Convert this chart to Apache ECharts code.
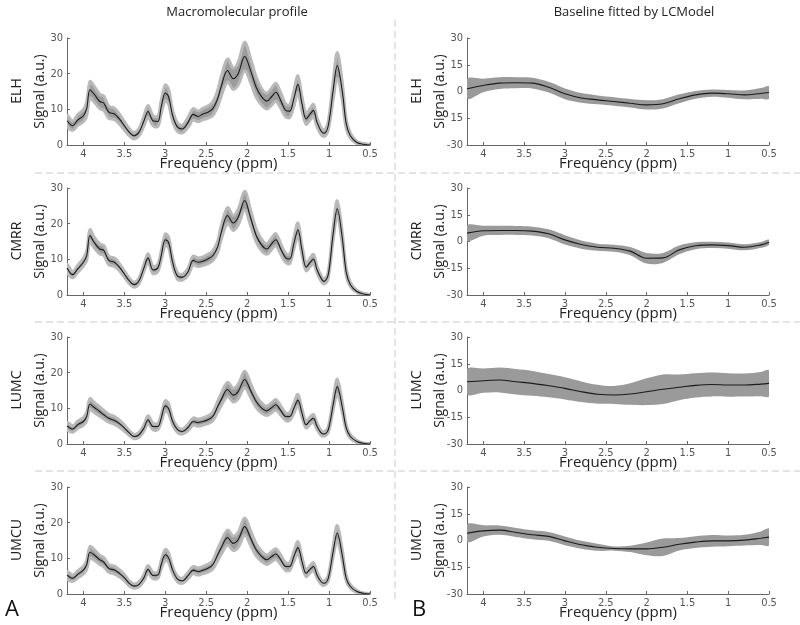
<!DOCTYPE html>
<html><head><meta charset="utf-8">
<script src="https://cdn.jsdelivr.net/npm/echarts@6/dist/echarts.min.js"></script>
<style>html,body{margin:0;padding:0;background:#fff}#c{width:800px;height:625px}</style>
</head><body><div id="c"></div>
<script>
// ---------- data ----------
const sites = ['ELH', 'CMRR', 'LUMC', 'UMCU'];
const ppmTicks = [0.5, 1, 1.5, 2, 2.5, 3, 3.5, 4];

// Macromolecular profile (left column)
const ppmMM = [4.2,4.13,4.07,4.0,3.96,3.92,3.87,3.8,3.75,3.69,3.62,3.56,3.5,3.44,3.38,3.32,3.26,3.21,3.15,3.09,3.05,3.0,2.96,2.91,2.85,2.79,2.72,2.66,2.6,2.54,2.48,2.42,2.36,2.32,2.24,2.17,2.11,2.03,1.96,1.89,1.82,1.76,1.7,1.65,1.59,1.53,1.48,1.43,1.38,1.33,1.28,1.23,1.19,1.15,1.1,1.06,1.01,0.95,0.9,0.84,0.79,0.74,0.66,0.58,0.5];
const mmELH  = [6.8,5.4,7.0,8.2,10.1,15.5,14.3,12.2,11.7,9.2,8.7,7.3,5.4,3.6,2.6,3.6,6.8,9.4,6.8,6.6,10.6,14.6,13.6,8.2,5.0,4.5,6.4,8.6,8.0,8.7,9.2,10.2,13.0,16.2,20.9,18.6,20.0,24.8,21.0,16.2,13.4,12.3,13.6,14.8,12.5,9.7,9.5,13.0,17.0,11.5,7.3,8.7,9.7,6.6,4.0,3.3,5.4,15.3,22.3,15.3,5.9,2.6,0.7,0.2,0.0];
const mmErrELH = [1.5,1.3,1.5,1.7,2.0,2.3,2.2,2.0,2.0,1.7,1.6,1.4,1.2,1.0,0.9,1.0,1.4,1.7,1.4,1.4,1.9,2.2,2.1,1.6,1.2,1.1,1.4,1.6,1.5,1.6,1.7,1.9,2.3,2.7,3.2,3.0,3.2,4.0,3.4,2.8,2.3,2.2,2.4,2.5,2.2,1.8,1.8,2.2,2.4,2.0,1.5,1.6,1.7,1.3,1.0,0.9,1.2,2.6,3.6,2.6,1.3,0.7,0.3,0.2,0.1];
const mmCMRR = [7.6,5.7,7.3,9.2,11.0,16.7,14.8,12.9,12.5,9.7,9.2,7.8,5.9,4.0,2.9,4.0,7.6,10.4,7.0,7.6,11.0,15.5,14.8,9.2,5.3,5.0,6.6,9.7,9.2,9.5,10.1,11.0,13.5,17.2,22.3,20.2,21.8,26.5,21.8,16.7,13.9,12.9,14.4,15.5,12.9,10.4,10.1,14.4,18.3,12.5,7.8,9.2,10.1,7.3,4.8,3.8,5.7,17.2,24.2,16.2,6.4,2.9,1.0,0.3,0.0];
const mmErrCMRR = [1.0,0.9,1.0,1.1,1.3,1.6,1.5,1.4,1.4,1.2,1.2,1.0,0.9,0.8,0.7,0.8,1.0,1.2,1.0,1.0,1.3,1.6,1.5,1.2,0.9,0.8,1.0,1.2,1.2,1.2,1.3,1.4,1.6,1.9,2.2,2.1,2.2,2.6,2.2,1.8,1.6,1.5,1.6,1.7,1.5,1.3,1.3,1.6,1.9,1.4,1.0,1.2,1.3,1.0,0.8,0.7,0.9,1.8,2.2,1.7,1.0,0.6,0.3,0.2,0.1];
const mmLUMC = [5.1,4.2,5.4,6.3,7.7,11.2,10.3,9.1,8.2,7.2,6.6,5.7,4.5,3.1,2.1,2.6,4.5,6.8,4.9,4.9,7.2,10.7,10.0,6.3,4.0,3.5,4.7,6.3,6.0,6.3,6.8,7.7,10.5,12.3,15.3,13.7,14.7,18.1,15.1,11.9,10.0,9.3,10.2,11.0,9.4,7.7,7.7,10.0,12.3,8.6,5.4,6.6,7.2,5.1,3.2,2.8,4.0,11.0,16.1,10.5,4.5,2.1,0.7,0.2,0.0];
const mmErrLUMC = [1.0,0.9,1.0,1.1,1.2,1.5,1.4,1.3,1.2,1.1,1.1,1.0,0.9,0.7,0.6,0.7,0.9,1.1,0.9,0.9,1.1,1.4,1.4,1.0,0.8,0.7,0.9,1.0,1.0,1.0,1.1,1.2,1.5,1.7,2.0,1.9,2.0,2.3,2.0,1.6,1.4,1.3,1.4,1.5,1.3,1.1,1.1,1.4,1.6,1.2,0.9,1.0,1.1,0.9,0.7,0.6,0.8,1.5,2.1,1.5,0.8,0.5,0.3,0.1,0.1];
const mmUMCU = [5.3,4.4,5.5,6.7,8.2,11.7,11.0,9.6,8.9,7.2,6.7,5.8,4.6,3.0,2.2,2.7,4.6,6.9,5.2,5.3,8.2,11.0,10.2,6.7,4.2,3.7,5.2,6.7,6.3,6.7,7.2,8.2,11.0,12.8,15.8,14.2,15.2,18.9,15.8,12.4,10.5,9.6,10.5,11.2,9.6,7.7,7.7,10.5,13.0,9.1,5.8,7.0,7.7,5.5,3.5,3.0,4.4,11.9,17.1,11.0,4.4,2.1,0.7,0.2,0.0];
const mmErrUMCU = [1.0,0.9,1.0,1.1,1.3,1.6,1.5,1.3,1.3,1.1,1.1,1.0,0.9,0.7,0.6,0.7,0.9,1.1,0.9,0.9,1.2,1.5,1.4,1.0,0.8,0.7,0.9,1.0,1.0,1.0,1.1,1.2,1.6,1.8,2.1,2.0,2.1,2.4,2.1,1.7,1.4,1.3,1.4,1.5,1.3,1.1,1.1,1.4,1.7,1.3,0.9,1.0,1.1,0.9,0.7,0.6,0.8,1.6,2.1,1.6,0.8,0.5,0.3,0.1,0.1];

// Baseline fitted by LCModel (right column)
const ppmBL = [4.2,4.0,3.8,3.6,3.4,3.2,3.0,2.8,2.6,2.4,2.2,2.0,1.8,1.6,1.4,1.2,1.0,0.8,0.6,0.5];
const blELH  = [1.5,3.4,4.7,4.9,4.7,2.4,-1.3,-3.6,-4.7,-5.6,-6.6,-7.5,-6.9,-4.1,-1.9,-0.9,-1.3,-1.9,-1.1,-0.6];
const blErrELH = [5.6,3.8,3.3,3.1,3.0,3.0,3.0,2.7,2.5,2.4,2.4,2.6,2.6,2.5,2.2,2.0,2.2,2.5,3.0,3.5];
const blCMRR = [4.7,6.0,6.2,6.2,5.8,4.3,0.9,-1.7,-3.2,-3.8,-5.4,-9.4,-9.2,-4.7,-2.4,-1.9,-2.3,-3.2,-1.9,-0.4];
const blErrCMRR = [4.4,2.8,2.6,2.5,2.5,2.5,2.6,2.3,2.0,2.0,2.3,3.0,2.8,2.5,2.0,1.8,1.7,1.7,1.6,1.5];
const blLUMC = [4.9,5.5,5.9,4.9,4.0,2.7,1.2,-0.7,-2.1,-2.5,-2.0,-0.7,0.7,1.8,2.9,3.4,3.1,3.1,3.6,4.0];
const blErrLUMC = [7.0,6.8,7.0,7.2,7.0,6.5,6.2,5.8,5.3,5.0,6.0,7.5,8.3,7.2,6.8,6.7,6.6,6.5,6.8,7.2];
const blUMCU = [4.1,5.4,5.8,4.5,3.2,2.3,-0.2,-2.4,-3.8,-4.5,-4.7,-4.7,-3.8,-2.1,-0.9,-0.2,-0.2,0.2,1.3,1.9];
const blErrUMCU = [4.9,3.1,2.6,2.5,2.5,2.5,2.5,2.2,2.0,1.2,1.8,3.6,4.9,3.5,3.3,3.3,3.0,3.0,3.8,4.7];

// ---------- build ----------
const mmVals = [mmELH, mmCMRR, mmLUMC, mmUMCU];
const mmErrs = [mmErrELH, mmErrCMRR, mmErrLUMC, mmErrUMCU];
const blVals = [blELH, blCMRR, blLUMC, blUMCU];
const blErrs = [blErrELH, blErrCMRR, blErrLUMC, blErrUMCU];

const TICK_FONT = "'DejaVu Sans Condensed', 'DejaVu Sans', sans-serif";
const NAME_FONT = "'Open Sans', sans-serif";
const tops = [38, 188, 337, 487];
const grids = [], xAxes = [], yAxes = [], series = [], graphics = [];
const SMOOTH = 0.35;

function addBand(gi, xs, v, e, bandColor, edge) {
  // error band: one polygon through upper and lower bounds, mapped via the axes
  series.push({
    type: 'custom', xAxisIndex: gi, yAxisIndex: gi, silent: true, animation: false, z: 1,
    coordinateSystem: 'cartesian2d', clip: true,
    data: [[xs[0], v[0]]],
    renderItem: function (params, api) {
      const up = xs.map((x, i) => api.coord([x, v[i] + e[i]]));
      const lo = xs.map((x, i) => api.coord([x, v[i] - e[i]]));
      return {type: 'group', children: [{
        type: 'polygon',
        shape: {points: up.concat(lo.slice().reverse()), smooth: SMOOTH},
        style: {fill: bandColor, stroke: edge ? '#b9b9b9' : null, lineWidth: edge ? 3 : 0}
      }]};
    }
  });
  series.push({type: 'line', xAxisIndex: gi, yAxisIndex: gi, symbol: 'none', smooth: SMOOTH,
    silent: true, animation: false, z: 3,
    data: xs.map((x, i) => [x, v[i]]),
    lineStyle: {color: '#1a1a1a', width: 1.1}});
}

sites.forEach((site, r) => {
  for (let c = 0; c < 2; c++) {
    const gi = r * 2 + c;
    grids.push({left: c ? 467 : 67, top: tops[r], width: c ? 302 : 303, height: 107});
    xAxes.push({
      gridIndex: gi, type: 'value', min: 0.5, max: 4.2, inverse: true,
      axisLine: {show: true, onZero: false, lineStyle: {color: '#666', width: 1}},
      axisTick: {show: true, inside: true, length: 3, customValues: ppmTicks, lineStyle: {color: '#666'}},
      axisLabel: {customValues: ppmTicks, color: '#555', fontSize: 11, margin: 4, fontFamily: TICK_FONT},
      splitLine: {show: false},
      name: 'Frequency (ppm)', nameLocation: 'middle', nameGap: 11, nameMoveOverlap: false,
      nameTextStyle: {fontSize: 15, color: '#222', fontFamily: NAME_FONT}
    });
    yAxes.push({
      gridIndex: gi, type: 'value',
      min: c ? -30 : 0, max: 30, interval: c ? 15 : 10,
      axisLine: {show: true, onZero: false, lineStyle: {color: '#666', width: 1}},
      axisTick: {show: true, inside: true, length: 3, lineStyle: {color: '#666'}},
      axisLabel: {color: '#555', fontSize: 11, margin: 4, fontFamily: TICK_FONT,
        formatter: (gi === 1) ? (v => (v === -15 ? '15' : String(v))) : (v => String(v))},
      splitLine: {show: false},
      name: 'Signal (a.u.)', nameLocation: 'middle', nameGap: 20, nameRotate: 90, nameMoveOverlap: false,
      nameTextStyle: {fontSize: 14, color: '#222', fontFamily: NAME_FONT}
    });
    if (c === 0) addBand(gi, ppmMM, mmVals[r], mmErrs[r], '#9c9c9c', true);
    else addBand(gi, ppmBL, blVals[r], blErrs[r], '#9a9a9a', false);
    graphics.push({type: 'text', x: c ? 417 : 17.5, y: tops[r] + 53, rotation: Math.PI / 2,
      style: {text: site, fontSize: 14, fill: '#222', fontFamily: NAME_FONT, align: 'center', verticalAlign: 'middle'}});
  }
});

// separators
[173, 322, 471].forEach(y => graphics.push({type: 'line', shape: {x1: 35, y1: y, x2: 800, y2: y},
  style: {stroke: '#c8c8c8', lineWidth: 1, lineDash: [7, 4]}}));
graphics.push({type: 'line', shape: {x1: 395, y1: 20, x2: 395, y2: 600},
  style: {stroke: '#c8c8c8', lineWidth: 1, lineDash: [7, 4]}});
// column titles
graphics.push({type: 'text', x: 237, y: 12, style: {text: 'Macromolecular profile', fontSize: 13, fill: '#222', fontFamily: NAME_FONT, align: 'center', verticalAlign: 'middle'}});
graphics.push({type: 'text', x: 634, y: 12, style: {text: 'Baseline fitted by LCModel', fontSize: 13, fill: '#222', fontFamily: NAME_FONT, align: 'center', verticalAlign: 'middle'}});
// panel letters
graphics.push({type: 'text', x: 12, y: 610, style: {text: 'A', fontSize: 22, fill: '#111', fontFamily: NAME_FONT, align: 'center', verticalAlign: 'middle'}});
graphics.push({type: 'text', x: 419, y: 610, style: {text: 'B', fontSize: 22, fill: '#111', fontFamily: NAME_FONT, align: 'center', verticalAlign: 'middle'}});

const chart = echarts.init(document.getElementById('c'));
chart.setOption({
  animation: false,
  backgroundColor: '#fff',
  grid: grids, xAxis: xAxes, yAxis: yAxes, series: series,
  graphic: graphics
});
</script>
</body></html>
